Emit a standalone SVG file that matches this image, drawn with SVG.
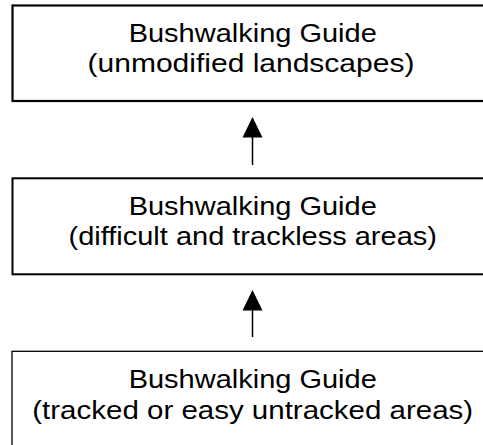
<svg xmlns="http://www.w3.org/2000/svg" width="483" height="445" viewBox="0 0 483 445">
<style>
.box{fill:#fff;stroke:#000}
.t{font-family:"Liberation Sans",Arial,sans-serif;font-size:25px;fill:#000;text-anchor:middle}
.ln{stroke:#000;stroke-width:1.5;fill:none}
.ah{fill:#000}
</style>
<rect width="483" height="445" fill="#fff"/>
<g id="node-unmodified">
<rect class="box" x="12.5" y="5.5" width="480" height="95.5" stroke-width="2.2"/>
<g transform="translate(252.7 0) scale(1.16 1)">
<text class="t" x="0" y="42.3">Bushwalking Guide</text>
</g>
<g transform="translate(251 0) scale(1.2 1)">
<text class="t" x="0" y="72.5">(unmodified landscapes)</text>
</g>
</g>
<g id="node-difficult">
<rect class="box" x="12.5" y="178.3" width="480" height="96" stroke-width="2"/>
<g transform="translate(252.7 0) scale(1.16 1)">
<text class="t" x="0" y="215">Bushwalking Guide</text>
<text class="t" x="0" y="245.5">(difficult and trackless areas)</text>
</g>
</g>
<g id="node-tracked">
<rect class="box" x="12" y="351.3" width="480" height="110" stroke-width="1.3"/>
<g transform="translate(252.7 0) scale(1.16 1)">
<text class="t" x="0" y="388.3">Bushwalking Guide</text>
</g>
<g transform="translate(252.7 0) scale(1.18 1)">
<text class="t" x="0" y="419.5">(tracked or easy untracked areas)</text>
</g>
</g>
<g id="connectors">
<line class="ln" x1="252.5" y1="165" x2="252.5" y2="136"/>
<polygon class="ah" points="252.5,117 242.5,137.5 262.5,137.5"/>
<line class="ln" x1="252.5" y1="337" x2="252.5" y2="309"/>
<polygon class="ah" points="252.5,290 242.5,310.5 262.5,310.5"/>
</g>
</svg>
